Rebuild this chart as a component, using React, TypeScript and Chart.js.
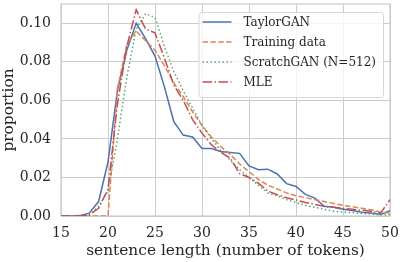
import React, { useEffect, useRef } from "react";
import { Chart, registerables } from "chart.js";

Chart.register(...registerables);

// ---- data ----
const lengths = [15, 16, 17, 18, 19, 20, 21, 22, 23, 24, 25, 26, 27, 28, 29, 30, 31, 32, 33, 34, 35, 36, 37, 38, 39, 40, 41, 42, 43, 44, 45, 46, 47, 48, 49, 50];

const taylorGAN = [0, 0, 0.0002, 0.0015, 0.0075, 0.028, 0.065, 0.086, 0.1, 0.092, 0.083, 0.067, 0.049, 0.042, 0.041, 0.035, 0.035, 0.0335, 0.033, 0.0325, 0.026, 0.024, 0.0243, 0.0218, 0.0168, 0.0153, 0.0112, 0.0093, 0.005, 0.0045, 0.0035, 0.0028, 0.002, 0.0015, 0.0008, 0.0027];

const trainingData = [0, 0, 0, 0, 0, 0, 0.066, 0.089, 0.096, 0.091, 0.086, 0.078, 0.069, 0.062, 0.054, 0.047, 0.041, 0.036, 0.032, 0.027, 0.023, 0.019, 0.016, 0.014, 0.012, 0.0105, 0.0095, 0.0085, 0.0075, 0.0065, 0.0055, 0.0048, 0.004, 0.0032, 0.002, 0.0015];

const scratchGAN = [0, 0, 0, 0.0005, 0.005, 0.013, 0.04, 0.072, 0.097, 0.105, 0.103, 0.088, 0.075, 0.065, 0.056, 0.047, 0.04, 0.034, 0.029, 0.024, 0.02, 0.016, 0.012, 0.0105, 0.0085, 0.007, 0.0055, 0.0045, 0.0035, 0.0025, 0.002, 0.0017, 0.0013, 0.001, 0.0007, 0.0007];

const mle = [0, 0, 0, 0.0005, 0.004, 0.014, 0.058, 0.088, 0.107, 0.097, 0.095, 0.082, 0.068, 0.06, 0.05, 0.043, 0.037, 0.033, 0.03, 0.022, 0.02, 0.017, 0.013, 0.011, 0.0095, 0.0083, 0.007, 0.006, 0.005, 0.0045, 0.004, 0.0035, 0.003, 0.0025, 0.0015, 0.0085];

const seriesLabels = ["TaylorGAN", "Training data", "ScratchGAN (N=512)", "MLE"];
const seriesColors = ["#4c72b0", "#dd8452", "#55a868", "#c44e52"];
const seriesDashes: number[][] = [[], [5.5, 2.4], [1.5, 2.5], [9.6, 2.4, 1.5, 2.4]];

const xTitle = "sentence length (number of tokens)";
const yTitle = "proportion";
const yTickMax = 0.1;

const FONT = "'DejaVu Serif', serif";
const TEXT = "#262626";
const GRID = "#cccccc";

const framePlugin = {
  id: "frame",
  beforeDatasetsDraw(chart: any) {
    const { ctx, chartArea: a } = chart;
    ctx.save();
    ctx.strokeStyle = GRID;
    ctx.lineWidth = 1.25;
    ctx.strokeRect(a.left, a.top, a.right - a.left, a.bottom - a.top);
    ctx.restore();
  },
};

const legendPlugin = {
  id: "insideLegend",
  afterDraw(chart: any) {
    const { ctx, chartArea: a } = chart;
    ctx.save();
    ctx.font = `12px ${FONT}`;
    const textW = Math.max(...seriesLabels.map((l) => ctx.measureText(l).width));
    const padL = 4, handle = 29, gap = 12, padR = 7, rowH = 20, firstRow = 10;
    const w = padL + handle + gap + textW + padR;
    const h = firstRow + rowH * (seriesLabels.length - 1) + 15;
    const x0 = a.right - 7 - w;
    const y0 = a.top + 8;
    ctx.beginPath();
    (ctx as any).roundRect(x0 + 0.5, y0 + 0.5, w, h, 3);
    ctx.fillStyle = "rgba(255,255,255,0.8)";
    ctx.fill();
    ctx.strokeStyle = "#d6d6d6";
    ctx.lineWidth = 1;
    ctx.stroke();
    seriesLabels.forEach((label, i) => {
      const cy = y0 + firstRow + i * rowH;
      ctx.beginPath();
      ctx.setLineDash(seriesDashes[i]);
      ctx.strokeStyle = seriesColors[i];
      ctx.lineWidth = 1.5;
      ctx.moveTo(x0 + padL, cy);
      ctx.lineTo(x0 + padL + handle, cy);
      ctx.stroke();
      ctx.setLineDash([]);
      ctx.fillStyle = TEXT;
      ctx.textBaseline = "middle";
      ctx.textAlign = "left";
      ctx.fillText(label, x0 + padL + handle + gap, cy + 1);
    });
    ctx.restore();
  },
};

export default function App() {
  const ref = useRef<HTMLCanvasElement>(null);
  useEffect(() => {
    document.body.style.margin = "0";
    const seriesValues = [taylorGAN, trainingData, scratchGAN, mle];
    const chart = new Chart(ref.current as HTMLCanvasElement, {
      type: "line",
      data: {
        datasets: seriesValues.map((vals, i) => ({
          label: seriesLabels[i],
          data: lengths.map((x, j) => ({ x, y: vals[j] })),
          borderColor: seriesColors[i],
          backgroundColor: seriesColors[i],
          borderDash: seriesDashes[i],
          borderWidth: 1.5,
          pointRadius: 0,
          tension: 0,
          fill: false,
          order: seriesValues.length - i,
        })),
      },
      options: {
        animation: false,
        responsive: false,
        devicePixelRatio: 1,
        layout: { padding: { top: 4, right: 11, left: 0, bottom: 0 } },
        plugins: { legend: { display: false }, tooltip: { enabled: false } },
        scales: {
          x: {
            type: "linear",
            min: 15,
            max: 50,
            bounds: "data",
            ticks: { stepSize: 5, color: TEXT, font: { family: FONT, size: 14 }, padding: 9 },
            grid: { color: GRID, lineWidth: 1, drawTicks: false },
            border: { display: false },
            title: { display: true, text: xTitle, color: TEXT, font: { family: FONT, size: 15.4 }, padding: { bottom: 2, top: 0 } },
            afterFit: (s: any) => {
              s.height = 46;
              s.paddingLeft = 0;
              s.paddingRight = 0;
            },
          },
          y: {
            type: "linear",
            min: 0,
            max: 0.11,
            bounds: "data",
            ticks: {
              stepSize: 0.02,
              includeBounds: false,
              color: TEXT,
              font: { family: FONT, size: 14 },
              padding: 10,
              callback: (v: any) => Number(v).toFixed(2),
            },
            afterBuildTicks: (s: any) => {
              s.ticks = s.ticks.filter((t: any) => t.value <= yTickMax + 1e-9);
            },
            grid: { color: GRID, lineWidth: 1, drawTicks: false },
            border: { display: false },
            title: { display: true, text: yTitle, color: TEXT, font: { family: FONT, size: 15.4 }, padding: { top: 0, bottom: 0 } },
            afterFit: (s: any) => {
              s.width = 61;
              s.paddingTop = 0;
              s.paddingBottom = 0;
            },
          },
        },
      },
      plugins: [framePlugin, legendPlugin],
    });
    return () => chart.destroy();
  }, []);
  return (
    <div style={{ width: 401, height: 262 }}>
      <canvas ref={ref} width={401} height={262} style={{ width: 401, height: 262, display: "block" }} />
    </div>
  );
}
